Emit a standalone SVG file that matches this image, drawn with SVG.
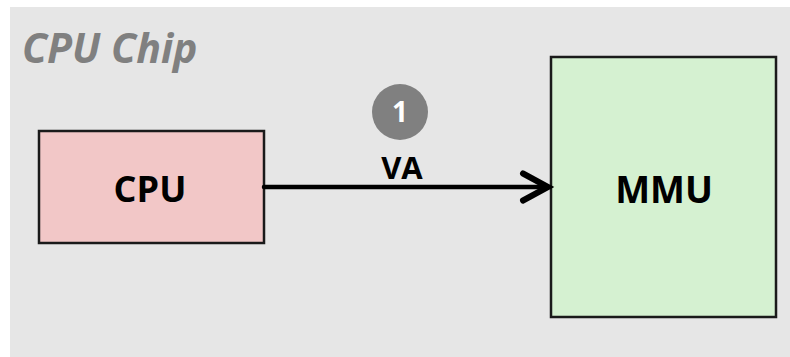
<svg xmlns="http://www.w3.org/2000/svg" width="790" height="357" viewBox="0 0 790 357">
<defs>
<style>
.box{stroke:#1a1a1a;stroke-width:2.5}
.lbl{font-family:"Open Sans","Liberation Sans",sans-serif;font-weight:bold;fill:#000;text-anchor:middle}
.wire{fill:none;stroke:#000;stroke-linecap:round}
</style>
</defs>
<rect x="10" y="7" width="780" height="350" fill="#e6e6e6"/>
<text x="22" y="63" font-family="'Open Sans','Liberation Sans',sans-serif" font-weight="bold" font-style="italic" font-size="41" fill="#808080">CPU Chip</text>
<g id="cpu">
<rect class="box" x="39" y="131" width="225" height="112" fill="#f2c7c7"/>
<text class="lbl" x="150" y="202" font-size="36">CPU</text>
</g>
<g id="mmu">
<rect class="box" x="551" y="57" width="225" height="260" fill="#d5f1d1"/>
<text class="lbl" x="664" y="203" font-size="37">MMU</text>
</g>
<g id="connectors">
<line class="wire" x1="264" y1="187" x2="548" y2="187" stroke-width="4.5" stroke-linecap="butt"/>
<path class="wire" d="M523,173.5 L548,187 L523,200.5" stroke-width="6"/>
<text class="lbl" x="402" y="179" font-size="31">VA</text>
</g>
<g id="step1">
<circle cx="400" cy="112" r="28" fill="#808080"/>
<text x="400" y="122" font-family="'Open Sans','Liberation Sans',sans-serif" font-weight="bold" font-size="28" fill="#fff" text-anchor="middle">1</text>
</g>
</svg>
